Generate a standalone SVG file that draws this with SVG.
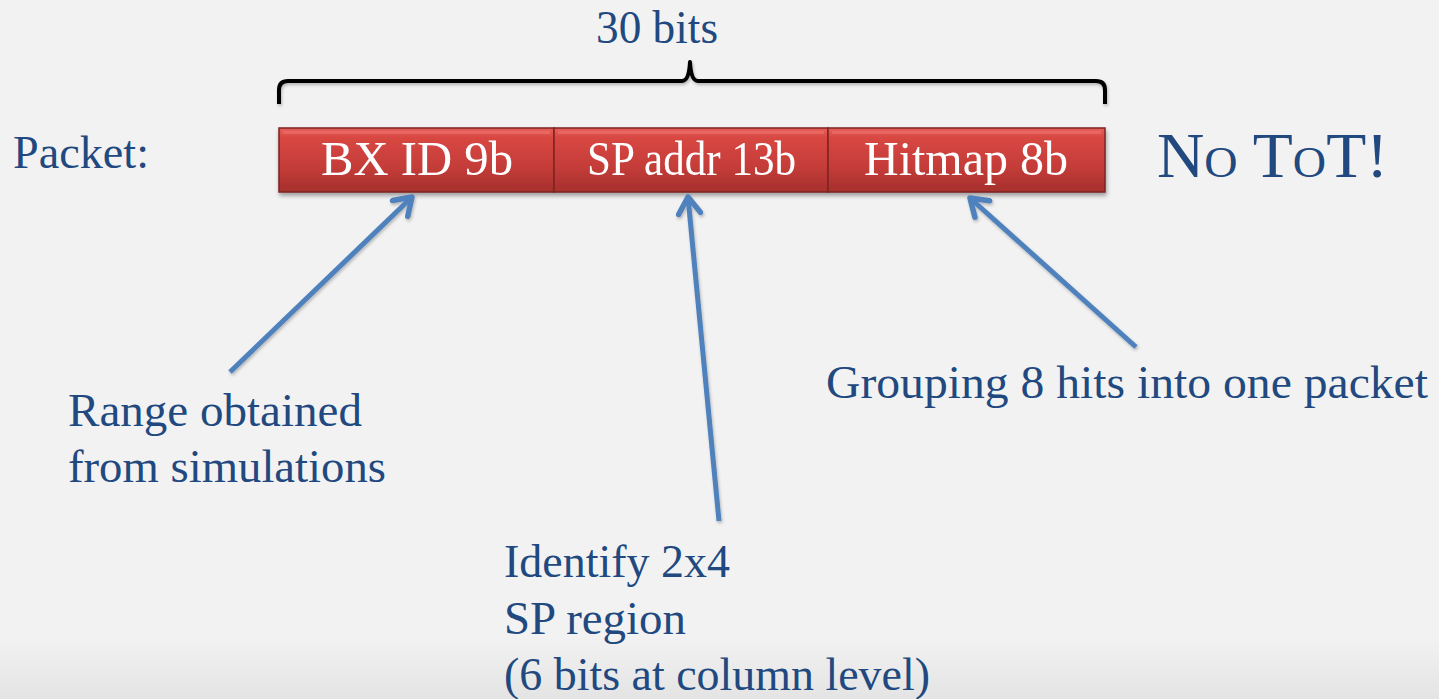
<svg xmlns="http://www.w3.org/2000/svg" width="1439" height="699" viewBox="0 0 1439 699">
  <defs>
    <linearGradient id="bg" x1="0" y1="0" x2="0" y2="1">
      <stop offset="0" stop-color="#f2f2f2"/>
      <stop offset="0.91" stop-color="#f2f2f2"/>
      <stop offset="1" stop-color="#e4e4e4"/>
    </linearGradient>
    <linearGradient id="red" x1="0" y1="0" x2="0" y2="1">
      <stop offset="0" stop-color="#e8605b"/>
      <stop offset="0.15" stop-color="#d84742"/>
      <stop offset="0.6" stop-color="#c53d39"/>
      <stop offset="1" stop-color="#a52f2c"/>
    </linearGradient>
    <filter id="shadow" x="-10%" y="-30%" width="120%" height="170%">
      <feDropShadow dx="1" dy="3" stdDeviation="2" flood-color="#000" flood-opacity="0.35"/>
    </filter>
    <filter id="ashadow" x="-20%" y="-20%" width="140%" height="140%">
      <feDropShadow dx="1" dy="2" stdDeviation="1.5" flood-color="#000" flood-opacity="0.25"/>
    </filter>
    <marker id="open" viewBox="0 0 20 20" refX="16" refY="10" markerWidth="5.5" markerHeight="5.5" orient="auto" markerUnits="strokeWidth">
      <path d="M4,2 L16,10 L4,18" fill="none" stroke="#4f81bd" stroke-width="4" stroke-linecap="round" stroke-linejoin="round"/>
    </marker>
    <style>
      .lbl { font-family: "Liberation Serif", "DejaVu Serif", serif; fill: #21497f; }
      .box { fill: url(#red); stroke: #7d2522; stroke-width: 1.5; }
      .boxt { font-family: "Liberation Serif", "DejaVu Serif", serif; fill: #ffffff; font-size: 49px; text-anchor: start; }
      .arr { stroke: #4f81bd; stroke-width: 5; fill: none; stroke-linecap: butt; marker-end: url(#open); }
    </style>
  </defs>

  <rect x="0" y="0" width="1439" height="699" fill="url(#bg)"/>

  <g id="title">
    <text class="lbl" x="596" y="43" font-size="46" textLength="122" lengthAdjust="spacingAndGlyphs">30 bits</text>
  </g>

  <g id="brace" filter="url(#ashadow)">
    <path d="M279,104 L279,90 Q279,81 288,81 L682,81 Q689,81 690,62 Q691,81 698,81 L1096,81 Q1105,81 1105,90 L1105,104" fill="none" stroke="#000" stroke-width="4" stroke-linejoin="round"/>
  </g>

  <g id="packet-label">
    <text class="lbl" x="13" y="168" font-size="46" textLength="136" lengthAdjust="spacingAndGlyphs">Packet:</text>
  </g>

  <g id="packet" filter="url(#shadow)">
    <g id="bxid">
      <rect class="box" x="279" y="128" width="275" height="64"/>
      <rect x="283" y="131" width="267" height="3" fill="#f07a74" opacity="0.5"/>
      <text class="boxt" x="321" y="175" textLength="192" lengthAdjust="spacingAndGlyphs">BX ID 9b</text>
    </g>
    <g id="spaddr">
      <rect class="box" x="554" y="128" width="274" height="64"/>
      <rect x="558" y="131" width="266" height="3" fill="#f07a74" opacity="0.5"/>
      <text class="boxt" x="587" y="175" font-size="43" textLength="209" lengthAdjust="spacingAndGlyphs">SP addr 13b</text>
    </g>
    <g id="hitmap">
      <rect class="box" x="828" y="128" width="277" height="64"/>
      <rect x="832" y="131" width="269" height="3" fill="#f07a74" opacity="0.5"/>
      <text class="boxt" x="864" y="175" textLength="204" lengthAdjust="spacingAndGlyphs">Hitmap 8b</text>
    </g>
  </g>

  <g id="nototnote">
    <text class="lbl" x="1157" y="177" font-size="64" font-variant="small-caps" textLength="231" lengthAdjust="spacingAndGlyphs">No ToT!</text>
  </g>

  <g id="connectors" filter="url(#ashadow)">
    <line class="arr" x1="230" y1="372" x2="412" y2="197"/>
    <line class="arr" x1="719" y1="521" x2="688" y2="197"/>
    <line class="arr" x1="1136" y1="347" x2="970" y2="198"/>
  </g>

  <g id="range-note">
    <text class="lbl" x="68" y="426" font-size="46" textLength="294" lengthAdjust="spacingAndGlyphs">Range obtained</text>
    <text class="lbl" x="68" y="482" font-size="46" textLength="318" lengthAdjust="spacingAndGlyphs">from simulations</text>
  </g>

  <g id="grouping-note">
    <text class="lbl" x="826" y="398" font-size="46" textLength="602" lengthAdjust="spacingAndGlyphs">Grouping 8 hits into one packet</text>
  </g>

  <g id="identify-note">
    <text class="lbl" x="504" y="577" font-size="46" textLength="226" lengthAdjust="spacingAndGlyphs">Identify 2x4</text>
    <text class="lbl" x="504" y="634" font-size="46" textLength="182" lengthAdjust="spacingAndGlyphs">SP region</text>
    <text class="lbl" x="504" y="690" font-size="46" textLength="426" lengthAdjust="spacingAndGlyphs">(6 bits at column level)</text>
  </g>
</svg>
